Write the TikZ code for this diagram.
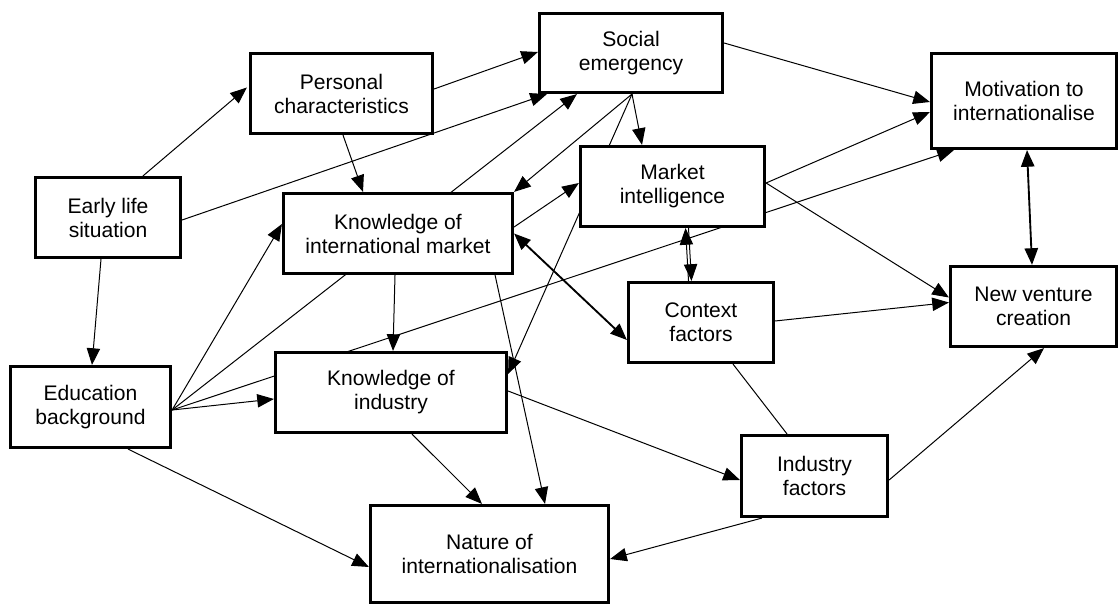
\documentclass[tikz,border=0pt]{standalone}
\usepackage{fontspec}
\setmainfont{Liberation Sans}
\usetikzlibrary{arrows.meta,calc}
\pgfdeclarelayer{back}
\pgfdeclarelayer{bg}
\pgfsetlayers{back,bg,main}
\begin{document}
\begin{tikzpicture}[x=0.75pt,y=-0.75pt,
  box/.style={draw, line width=2pt, fill=white, align=center, inner sep=2pt,
    font=\fontsize{15.8pt}{18pt}\selectfont},
  arr/.style={-{Triangle[length=12.5pt,width=10pt]}, line width=0.75pt},
  dbl/.style={{Triangle[length=12.5pt,width=10pt]}-{Triangle[length=12.5pt,width=10pt]}, line width=1.4pt},
  plain/.style={line width=0.75pt}]
\useasboundingbox (0,0) rectangle (1119,605);
\begin{pgfonlayer}{back}
\fill[white] (0,0) rectangle (1119,605);
\end{pgfonlayer}

\node[box, minimum width=109.1pt, minimum height=60.4pt] (early) at (108,217.5) {Early life\\situation};
\node[box, minimum width=136.9pt, minimum height=60.4pt] (personal) at (341.5,93.5) {Personal\\characteristics};
\node[box, minimum width=137.6pt, minimum height=59.6pt] (social) at (631,53) {Social\\emergency};
\node[box, minimum width=139.1pt, minimum height=71.6pt] (motiv) at (1024,101) {Motivation to\\internationalise};
\node[box, minimum width=172.1pt, minimum height=60.4pt] (kim) at (398,233.5) {Knowledge of\\international market};
\node[box, minimum width=138.4pt, minimum height=60.4pt] (mi) at (672.5,186.5) {Market\\intelligence};
\node[box, minimum width=120.4pt, minimum height=61.1pt] (edu) at (90.5,407) {Education\\background};
\node[box, minimum width=173.6pt, minimum height=60.4pt] (koi) at (391,392.5) {Knowledge of\\industry};
\node[box, minimum width=109.1pt, minimum height=60.4pt] (context) at (701,322.5) {Context\\factors};
\node[box, minimum width=124.9pt, minimum height=60.4pt] (nv) at (1033.5,306.5) {New venture\\creation};
\node[box, minimum width=109.9pt, minimum height=61.1pt] (industry) at (814.5,476) {Industry\\factors};
\node[box, minimum width=178.9pt, minimum height=73.1pt] (nature) at (489.5,554) {Nature of\\internationalisation};

\coordinate (edufan) at ($(edu.east)+(0,3)$);
\coordinate (socfoot) at ($(social.south)+(1,0)$);
\coordinate (mifoot) at ($(mi.east)+(0,-3.5)$);

\begin{pgfonlayer}{bg}
\draw[arr] ($(early.north)+(35,0)$) -- ($(personal.west)+(-2,-6)$);
\draw[arr] ($(early.east)+(0,2.5)$) -- ($(social.south west)+(9,0)$);
\draw[arr] ($(early.south)+(-7,0)$) -- ($(edu.north)+(1.5,0)$);
\draw[arr] ($(personal.south)+(1.5,0)$) -- ($(kim.north)+(-35,0)$);
\draw[arr] ($(personal.east)+(0,-4.5)$) -- ($(social.west)+(0,-1)$);
\draw[arr] ($(social.east)+(0,-10)$) -- ($(motiv.west)+(0,1)$);
\draw[arr] (socfoot) -- (kim.north east);
\draw[arr] (socfoot) -- ($(mi.north)+(-30.5,0)$);
\draw[arr] (socfoot) -- ($(koi.east)+(0,-18.5)$);
\draw[arr] ($(kim.east)+(0,-6.5)$) -- ($(mi.west)+(0,-3.5)$);
\draw[dbl] (kim.east) -- ($(context.west)+(0,17.5)$);
\draw[arr] ($(kim.south)+(-3,0)$) -- ($(koi.north)+(2,0)$);
\draw[arr] ($(kim.south east)+(-19,0)$) -- ($(nature.north)+(55.5,0)$);
\draw[arr] (mifoot) -- ($(motiv.west)+(0,11)$);
\draw[arr] (mifoot) -- ($(nv.west)+(0,-9)$);
\draw[arr] ($(context.north)+(-12.5,0)$) -- ($(mi.south)+(13,0)$);
\draw[arr] ($(mi.south)+(16,0)$) -- ($(context.north)+(-9.5,0)$);
\draw[dbl] ($(motiv.south)+(3,0)$) -- ($(nv.north)+(-1.5,0)$);
\draw[arr] (edufan) -- ($(kim.west)+(0,-9.5)$);
\draw[arr] (edufan) -- ($(social.south west)+(39,0)$);
\draw[arr] (edufan) -- ($(motiv.south west)+(24,0)$);
\draw[arr] (edufan) -- ($(koi.west)+(0,6.5)$);
\draw[arr] ($(edu.south)+(37.5,0)$) -- ($(nature.west)+(0,13)$);
\draw[arr] ($(koi.east)+(0,-1.5)$) -- ($(industry.west)+(0,4)$);
\draw[arr] ($(koi.south)+(21,0)$) -- ($(nature.north)+(-7.5,0)$);
\draw[arr] ($(context.east)+(0,-1.5)$) -- ($(nv.west)+(0,-4)$);
\draw[plain] ($(context.south)+(32,0)$) -- ($(industry.north)+(-27.5,0)$);
\draw[arr] ($(industry.east)+(0,4)$) -- ($(nv.south)+(10.5,0)$);
\draw[arr] ($(industry.south west)+(22,0)$) -- ($(nature.east)+(0,5)$);
\end{pgfonlayer}
\end{tikzpicture}
\end{document}
